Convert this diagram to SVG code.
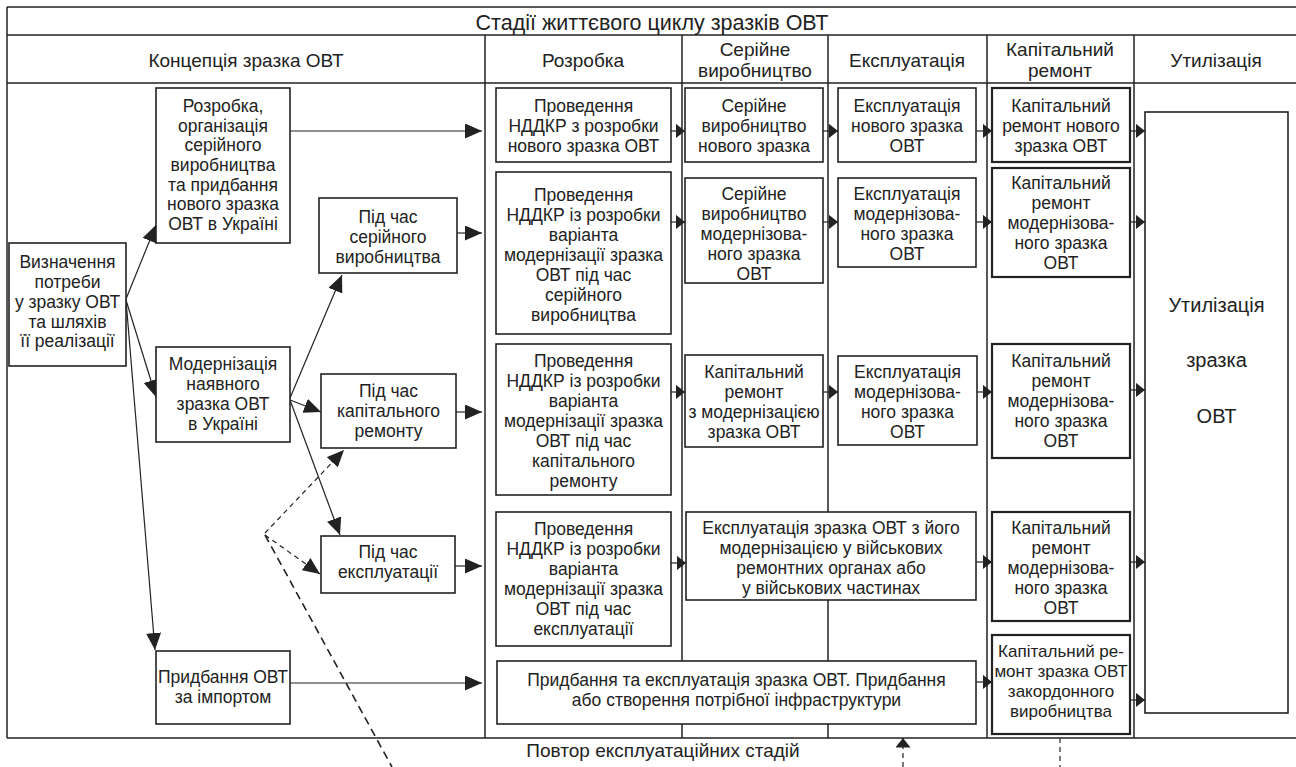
<svg xmlns="http://www.w3.org/2000/svg" width="1296" height="767" viewBox="0 0 1296 767">
<style>
  .grid line{stroke:#222;stroke-width:1.5}
  .box rect{fill:#fff;stroke:#222;stroke-width:1.6}
  .kbox rect{fill:#fff;stroke:#222;stroke-width:2.2}
  text{font-family:"Liberation Sans",Arial,sans-serif;fill:#222}
  .t{font-size:17.5px;text-anchor:middle}
  .h{font-size:19px;text-anchor:middle}
  .conn path{stroke:#222;stroke-width:1.2;fill:none}
  .conn .d{stroke-dasharray:5 4}
  .conn .d2{stroke-dasharray:8 5;stroke-width:1.6}
</style>
<defs>
  <marker id="ab" markerUnits="userSpaceOnUse" markerWidth="18" markerHeight="16" refX="17" refY="7.5" orient="auto">
    <path d="M0,0 L17,7.5 L0,15 z" fill="#222"/>
  </marker>
  <marker id="as" markerUnits="userSpaceOnUse" markerWidth="11" markerHeight="16" refX="9.5" refY="7.5" orient="auto">
    <path d="M0,0 L9.5,7.5 L0,15 z" fill="#222"/>
  </marker>
</defs>
<rect width="1296" height="767" fill="#fff"/>

<g id="frame" class="grid">
  <line x1="7" y1="7" x2="1296" y2="7"/>
  <line x1="7" y1="35" x2="1296" y2="35"/>
  <line x1="7" y1="83" x2="1296" y2="83"/>
  <line x1="7" y1="738" x2="1296" y2="738"/>
  <line x1="7" y1="7" x2="7" y2="738"/>
  <line x1="485" y1="35" x2="485" y2="738"/>
  <line x1="682" y1="35" x2="682" y2="738"/>
  <line x1="828" y1="35" x2="828" y2="738"/>
  <line x1="987" y1="35" x2="987" y2="738"/>
  <line x1="1134" y1="35" x2="1134" y2="738"/>
</g>

<g id="headers">
  <text x="652" y="30" style="font-size:21.5px;text-anchor:middle">Стадії життєвого циклу зразків ОВТ</text>
  <text class="h" x="246" y="67">Концепція зразка ОВТ</text>
  <text class="h" x="583" y="67">Розробка</text>
  <text class="h"><tspan x="755" y="56">Серійне</tspan><tspan x="755" y="77">виробництво</tspan></text>
  <text class="h" x="907" y="67">Експлуатація</text>
  <text class="h"><tspan x="1060" y="56">Капітальний</tspan><tspan x="1060" y="77">ремонт</tspan></text>
  <text class="h" x="1216" y="67">Утилізація</text>
  <text class="h" x="663" y="757">Повтор експлуатаційних стадій</text>
</g>

<g id="connectors" class="conn">
  <path marker-end="url(#ab)" d="M290,131 L482,131"/>
  <path marker-end="url(#ab)" d="M457,233 L482,233"/>
  <path marker-end="url(#ab)" d="M456,412 L482,412"/>
  <path marker-end="url(#ab)" d="M455,566 L482,566"/>
  <path marker-end="url(#ab)" d="M290,683 L482,683"/>
  <path marker-end="url(#ab)" d="M126,299 L156,225"/>
  <path marker-end="url(#ab)" d="M126,300 L156,397"/>
  <path marker-end="url(#ab)" d="M126,300 L155,650"/>
  <path marker-end="url(#ab)" d="M290,398 L342,275"/>
  <path marker-end="url(#ab)" d="M290,400 L321,412"/>
  <path marker-end="url(#ab)" d="M290,400 L340,535"/>
  <path class="d" marker-end="url(#ab)" d="M265,533 L344,450"/>
  <path class="d" marker-end="url(#ab)" d="M265,535 L320,574"/>
  <path class="d2" d="M265,535 L392,767"/>
  <path marker-end="url(#as)" d="M671,131 L685,131"/>
  <path marker-end="url(#as)" d="M823,131 L838,131"/>
  <path marker-end="url(#as)" d="M976,131 L992,131"/>
  <path marker-end="url(#as)" d="M1130,131 L1145,131"/>
  <path marker-end="url(#as)" d="M671,222 L685,222"/>
  <path marker-end="url(#as)" d="M823,222 L838,222"/>
  <path marker-end="url(#as)" d="M976,222 L992,222"/>
  <path marker-end="url(#as)" d="M1130,222 L1145,222"/>
  <path marker-end="url(#as)" d="M671,392 L685,392"/>
  <path marker-end="url(#as)" d="M823,392 L838,392"/>
  <path marker-end="url(#as)" d="M977,392 L992,392"/>
  <path marker-end="url(#as)" d="M1130,390 L1145,390"/>
  <path marker-end="url(#as)" d="M671,563 L686,563"/>
  <path marker-end="url(#as)" d="M976,562 L992,562"/>
  <path marker-end="url(#as)" d="M1130,562 L1145,562"/>
  <path marker-end="url(#as)" d="M976,682 L992,682"/>
  <path marker-end="url(#as)" d="M1130,700 L1145,700"/>
  <path class="d" marker-end="url(#as)" d="M903,767 L903,738"/>
  <path class="d" d="M1060,738 L1060,767"/>
</g>

<g id="n_def" class="box"><rect x="9" y="243" width="117" height="123"/>
  <text class="t"><tspan x="67.5" y="268">Визначення</tspan><tspan x="67.5" y="288">потреби</tspan><tspan x="67.5" y="308">у зразку ОВТ</tspan><tspan x="67.5" y="328">та шляхів</tspan><tspan x="67.5" y="347">її реалізації</tspan></text></g>
<g id="n_dev" class="box"><rect x="156" y="88" width="134" height="155"/>
  <text class="t"><tspan x="223" y="112">Розробка,</tspan><tspan x="223" y="131.7">організація</tspan><tspan x="223" y="151.3">серійного</tspan><tspan x="223" y="171">виробництва</tspan><tspan x="223" y="190.7">та придбання</tspan><tspan x="223" y="210.3">нового зразка</tspan><tspan x="223" y="230">ОВТ в Україні</tspan></text></g>
<g id="n_mod" class="box"><rect x="156" y="347" width="134" height="95"/>
  <text class="t"><tspan x="223" y="370">Модернізація</tspan><tspan x="223" y="390">наявного</tspan><tspan x="223" y="410">зразка ОВТ</tspan><tspan x="223" y="430">в Україні</tspan></text></g>
<g id="n_imp" class="box"><rect x="156" y="651" width="134" height="73"/>
  <text class="t"><tspan x="223" y="683">Придбання ОВТ</tspan><tspan x="223" y="703">за імпортом</tspan></text></g>
<g id="n_ser" class="box"><rect x="319" y="198" width="138" height="75"/>
  <text class="t"><tspan x="388" y="222.5">Під час</tspan><tspan x="388" y="242.5">серійного</tspan><tspan x="388" y="262.5">виробництва</tspan></text></g>
<g id="n_cap" class="box"><rect x="321" y="374" width="135" height="74"/>
  <text class="t"><tspan x="388.5" y="397">Під час</tspan><tspan x="388.5" y="417">капітального</tspan><tspan x="388.5" y="437">ремонту</tspan></text></g>
<g id="n_exp" class="box"><rect x="321" y="536" width="134" height="57"/>
  <text class="t"><tspan x="388" y="558">Під час</tspan><tspan x="388" y="578">експлуатації</tspan></text></g>

<g id="r1" class="box"><rect x="496" y="88" width="175" height="74"/>
  <text class="t"><tspan x="583.5" y="112">Проведення</tspan><tspan x="583.5" y="132">НДДКР з розробки</tspan><tspan x="583.5" y="152">нового зразка ОВТ</tspan></text></g>
<g id="r2" class="box"><rect x="496" y="172" width="175" height="162"/>
  <text class="t"><tspan x="583.5" y="201">Проведення</tspan><tspan x="583.5" y="221">НДДКР із розробки</tspan><tspan x="583.5" y="241">варіанта</tspan><tspan x="583.5" y="261">модернізації зразка</tspan><tspan x="583.5" y="281">ОВТ під час</tspan><tspan x="583.5" y="301">серійного</tspan><tspan x="583.5" y="321">виробництва</tspan></text></g>
<g id="r3" class="box"><rect x="496" y="344" width="175" height="151"/>
  <text class="t"><tspan x="583.5" y="367">Проведення</tspan><tspan x="583.5" y="387">НДДКР із розробки</tspan><tspan x="583.5" y="407">варіанта</tspan><tspan x="583.5" y="427">модернізації зразка</tspan><tspan x="583.5" y="447">ОВТ під час</tspan><tspan x="583.5" y="467">капітального</tspan><tspan x="583.5" y="487">ремонту</tspan></text></g>
<g id="r4" class="box"><rect x="496" y="512" width="175" height="134"/>
  <text class="t"><tspan x="583.5" y="535">Проведення</tspan><tspan x="583.5" y="555">НДДКР із розробки</tspan><tspan x="583.5" y="575">варіанта</tspan><tspan x="583.5" y="595">модернізації зразка</tspan><tspan x="583.5" y="615">ОВТ під час</tspan><tspan x="583.5" y="635">експлуатації</tspan></text></g>
<g id="r5" class="box"><rect x="497" y="661" width="479" height="63"/>
  <text class="t"><tspan x="736.5" y="686">Придбання та експлуатація зразка ОВТ. Придбання</tspan><tspan x="736.5" y="706">або створення потрібної інфраструктури</tspan></text></g>

<g id="s1" class="box"><rect x="685" y="88" width="138" height="74"/>
  <text class="t"><tspan x="754" y="112">Серійне</tspan><tspan x="754" y="132">виробництво</tspan><tspan x="754" y="152">нового зразка</tspan></text></g>
<g id="s2" class="box"><rect x="685" y="178" width="138" height="105"/>
  <text class="t"><tspan x="754" y="200">Серійне</tspan><tspan x="754" y="220">виробництво</tspan><tspan x="754" y="240">модернізова-</tspan><tspan x="754" y="260">ного зразка</tspan><tspan x="754" y="280">ОВТ</tspan></text></g>
<g id="s3" class="box"><rect x="685" y="355" width="138" height="92"/>
  <text class="t"><tspan x="754" y="378">Капітальний</tspan><tspan x="754" y="398">ремонт</tspan><tspan x="754" y="418">з модернізацією</tspan><tspan x="754" y="438">зразка ОВТ</tspan></text></g>
<g id="s4" class="box"><rect x="686" y="512" width="290" height="88"/>
  <text class="t"><tspan x="831" y="534">Експлуатація зразка ОВТ з його</tspan><tspan x="831" y="554">модернізацією у військових</tspan><tspan x="831" y="574">ремонтних органах або</tspan><tspan x="831" y="594">у військових частинах</tspan></text></g>

<g id="e1" class="box"><rect x="838" y="88" width="138" height="74"/>
  <text class="t"><tspan x="907" y="112">Експлуатація</tspan><tspan x="907" y="132">нового зразка</tspan><tspan x="907" y="152">ОВТ</tspan></text></g>
<g id="e2" class="box"><rect x="838" y="178" width="138" height="89"/>
  <text class="t"><tspan x="907" y="200">Експлуатація</tspan><tspan x="907" y="220">модернізова-</tspan><tspan x="907" y="240">ного зразка</tspan><tspan x="907" y="260">ОВТ</tspan></text></g>
<g id="e3" class="box"><rect x="838" y="356" width="139" height="89"/>
  <text class="t"><tspan x="907.5" y="378">Експлуатація</tspan><tspan x="907.5" y="398">модернізова-</tspan><tspan x="907.5" y="418">ного зразка</tspan><tspan x="907.5" y="438">ОВТ</tspan></text></g>

<g id="k1" class="kbox"><rect x="992" y="88" width="138" height="74"/>
  <text class="t"><tspan x="1061" y="112">Капітальний</tspan><tspan x="1061" y="132">ремонт нового</tspan><tspan x="1061" y="152">зразка ОВТ</tspan></text></g>
<g id="k2" class="kbox"><rect x="992" y="168" width="138" height="109"/>
  <text class="t"><tspan x="1061" y="189">Капітальний</tspan><tspan x="1061" y="209">ремонт</tspan><tspan x="1061" y="229">модернізова-</tspan><tspan x="1061" y="249">ного зразка</tspan><tspan x="1061" y="269">ОВТ</tspan></text></g>
<g id="k3" class="kbox"><rect x="992" y="344" width="138" height="114"/>
  <text class="t"><tspan x="1061" y="367">Капітальний</tspan><tspan x="1061" y="387">ремонт</tspan><tspan x="1061" y="407">модернізова-</tspan><tspan x="1061" y="427">ного зразка</tspan><tspan x="1061" y="447">ОВТ</tspan></text></g>
<g id="k4" class="kbox"><rect x="992" y="512" width="138" height="109"/>
  <text class="t"><tspan x="1061" y="534">Капітальний</tspan><tspan x="1061" y="554">ремонт</tspan><tspan x="1061" y="574">модернізова-</tspan><tspan x="1061" y="594">ного зразка</tspan><tspan x="1061" y="614">ОВТ</tspan></text></g>
<g id="k5" class="kbox"><rect x="992" y="635" width="138" height="99"/>
  <text class="t" style="font-size:17px"><tspan x="1061" y="657">Капітальний ре-</tspan><tspan x="1061" y="677">монт зразка ОВТ</tspan><tspan x="1061" y="697">закордонного</tspan><tspan x="1061" y="717">виробництва</tspan></text></g>

<g id="u1" class="box"><rect x="1145" y="112" width="143" height="601"/>
  <text style="font-size:20px;text-anchor:middle"><tspan x="1216.5" y="312">Утилізація</tspan><tspan x="1216.5" y="367">зразка</tspan><tspan x="1216.5" y="423">ОВТ</tspan></text></g>
</svg>
